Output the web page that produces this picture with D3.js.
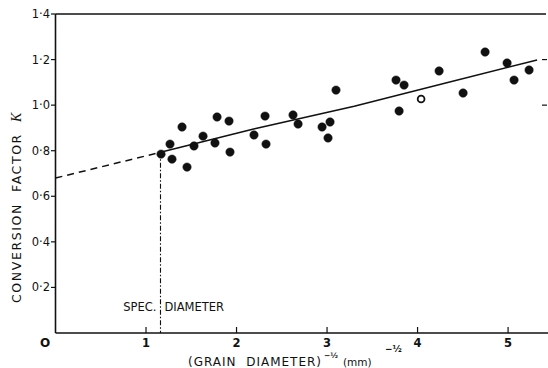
<!DOCTYPE html>
<html><head><meta charset="utf-8">
<script src="https://cdn.jsdelivr.net/npm/d3@7"></script>
<style>body{margin:0;background:#fff}svg{display:block}text{font-family:"DejaVu Sans",sans-serif;fill:#111;white-space:pre}</style>
</head><body><svg id="c" width="548" height="368"></svg>
<script>
const xVals = [1.166,1.265,1.287,1.398,1.453,1.530,1.630,1.785,1.917,1.762,1.928,2.193,2.315,2.326,2.624,2.680,2.945,3.033,3.011,3.099,3.762,3.851,3.796,4.039,4.238,4.503,4.746,4.989,5.066,5.232];
const kVals = [0.785,0.829,0.763,0.904,0.728,0.821,0.864,0.948,0.930,0.834,0.794,0.869,0.952,0.829,0.957,0.917,0.904,0.926,0.856,1.066,1.110,1.088,0.974,1.027,1.150,1.053,1.233,1.185,1.110,1.154];
const openPts = [23];
const dashX = [0, 1.16];
const dashY = [0.68, 0.793];
const solidX = [1.16, 2.2, 3.3, 4.3, 5.32];
const solidY = [0.793, 0.896, 0.995, 1.096, 1.198];
const specX = 1.16;
const xTicks = [1,2,3,4,5];
const yTicks = [0.2,0.4,0.6,0.8,1.0,1.2,1.4];
const yTickLabels = ["0·2","0·4","0·6","0·8","1·0","1·2","1·4"];
const rightTicks = [1.0,1.2];

const svg = d3.select("#c");
const x = d3.scaleLinear().domain([0,5.43]).range([55.5,547]);
const y = d3.scaleLinear().domain([0,1.4]).range([333,14]);

// frame
svg.append("line").attr("x1",55.5).attr("x2",548).attr("y1",333).attr("y2",333).attr("stroke","#111").attr("stroke-width",1.6);
svg.append("line").attr("x1",55.5).attr("x2",55.5).attr("y1",14).attr("y2",333).attr("stroke","#111").attr("stroke-width",1.6);
svg.append("line").attr("x1",55.5).attr("x2",546).attr("y1",14).attr("y2",14).attr("stroke","#111").attr("stroke-width",1.4);

// x ticks (inward)
svg.selectAll(".xt").data(xTicks).enter().append("line")
  .attr("x1",d=>x(d)).attr("x2",d=>x(d)).attr("y1",333).attr("y2",327).attr("stroke","#111").attr("stroke-width",1.2);
svg.selectAll(".xl").data(xTicks).enter().append("text")
  .attr("x",d=>x(d)).attr("y",346.5).attr("text-anchor","middle").attr("font-size",11.5).attr("font-weight","bold").text(d=>d);
svg.append("text").attr("x",45).attr("y",347).attr("text-anchor","middle").attr("font-size",12).attr("font-weight","bold").text("O");

// y ticks (outward)
svg.selectAll(".yt").data(yTicks).enter().append("line")
  .attr("x1",51).attr("x2",55.5).attr("y1",d=>y(d)).attr("y2",d=>y(d)).attr("stroke","#111").attr("stroke-width",1.2);
svg.selectAll(".yl").data(yTicks).enter().append("text")
  .attr("x",50).attr("y",d=>y(d)+4).attr("text-anchor","end").attr("font-size",11.5).text((d,i)=>yTickLabels[i]);
svg.selectAll(".rt").data(rightTicks).enter().append("line")
  .attr("x1",542).attr("x2",547).attr("y1",d=>y(d)).attr("y2",d=>y(d)).attr("stroke","#111").attr("stroke-width",1.2);

// regression line
const line = d3.line().x(d=>x(d[0])).y(d=>y(d[1]));
svg.append("path").attr("d",line(dashX.map((v,i)=>[v,dashY[i]]))).attr("fill","none").attr("stroke","#111").attr("stroke-width",1.5).attr("stroke-dasharray","7,5");
svg.append("path").attr("d",line(solidX.map((v,i)=>[v,solidY[i]]))).attr("fill","none").attr("stroke","#111").attr("stroke-width",1.5);

// spec diameter line
svg.append("line").attr("x1",x(specX)).attr("x2",x(specX)).attr("y1",y(dashY[1])).attr("y2",333)
  .attr("stroke","#111").attr("stroke-width",1.1).attr("stroke-dasharray","5,2,1.5,2");
svg.append("text").attr("x",x(specX)-4).attr("y",311).attr("text-anchor","end").attr("font-size",11.5).text("SPEC.");
svg.append("text").attr("x",x(specX)+4).attr("y",311).attr("text-anchor","start").attr("font-size",11.5).text("DIAMETER");

// points
const pts = xVals.map((v,i)=>({x:v,k:kVals[i],open:openPts.includes(i)}));
svg.selectAll(".p").data(pts).enter().append("circle")
  .attr("cx",d=>x(d.x)).attr("cy",d=>y(d.k)).attr("r",d=>d.open?3.4:4.2)
  .attr("fill",d=>d.open?"#fff":"#111").attr("stroke","#111").attr("stroke-width",d=>d.open?1.8:0.5);

// axis titles
svg.append("text").attr("x",188).attr("y",366).attr("font-size",12).attr("textLength",133).text("(GRAIN  DIAMETER)");
svg.append("text").attr("x",324).attr("y",358).attr("font-size",7.5).attr("font-weight","bold").text("−½");
svg.append("text").attr("x",343).attr("y",366).attr("font-size",10.5).text("(mm)");
svg.append("text").attr("x",385).attr("y",352).attr("font-size",9).attr("font-weight","bold").text("−½");

const yt = svg.append("text").attr("transform","translate(21,207) rotate(-90)").attr("text-anchor","middle").attr("font-size",12.5).attr("letter-spacing",1.6);
yt.append("tspan").text("CONVERSION  FACTOR  ");
yt.append("tspan").attr("font-style","italic").attr("font-family","Liberation Serif, serif").attr("font-size",14).text("K");
</script></body></html>
